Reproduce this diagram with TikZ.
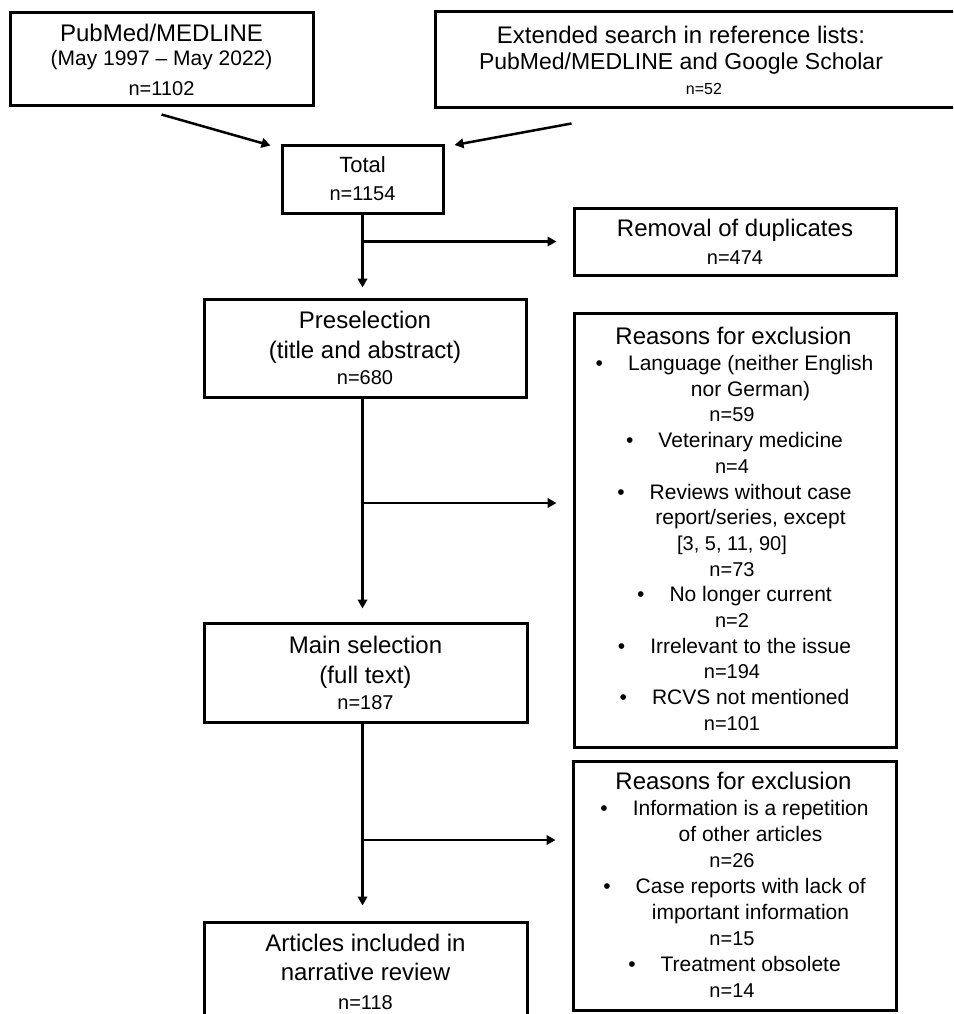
\documentclass[tikz,border=0pt]{standalone}
\usepackage{fontspec}
\setmainfont{Liberation Sans}
\usetikzlibrary{arrows.meta,calc}
\newcommand{\hd}{\fontsize{24}{29}\selectfont}
\newcommand{\totfont}{\fontsize{22}{27}\selectfont}
\newcommand{\itemfont}{\fontsize{21}{25}\selectfont}
\newcommand{\nfont}{\fontsize{20}{24}\selectfont}
\newcommand{\smallnfont}{\fontsize{16}{19}\selectfont}

\begin{document}
\begin{tikzpicture}[x=1pt, y=-1pt,
    box/.style={draw, line width=3pt, inner sep=0pt, align=center, font=\hd},
    arr/.style={draw, line width=2.5pt, -{Triangle[length=9pt, width=9.5pt]}},
    lnh/.style={font=\hd, xshift=-1pt},
    lnb/.style={font=\itemfont, execute at begin node={\textbullet\hspace{25pt}}},
    lnc/.style={font=\itemfont, xshift=16pt},
    lnn/.style={font=\nfont, xshift=-2.5pt}]
  \useasboundingbox (0,0) rectangle (953,1014);
  \clip (0,0) rectangle (953,1014);

  % sources
  \node[box, minimum width=560pt, minimum height=96pt] (extsearch) at (715,60)
    {Extended search in reference lists:\rule{68pt}{0pt}\\[-3pt]{\fontsize{23}{27}\selectfont PubMed/MEDLINE and Google Scholar\rule{68pt}{0pt}}\\[-4pt]{\smallnfont n=52\rule{22pt}{0pt}}};
  \node[box, minimum width=303pt, minimum height=93pt] (pubmed) at (161.5,59.5)
    {PubMed/MEDLINE\\[-5pt]{\itemfont (May 1997 -- May 2022)}\\[1pt]{\nfont n=1102}};

  % main column
  \node[box, minimum width=161pt, minimum height=68pt] (total) at (362.5,179)
    {{\totfont Total}\\[-1pt]{\nfont n=1154}};
  \node[box, minimum width=322pt, minimum height=98pt] (presel) at (365,348)
    {Preselection\\[1pt](title and abstract)\\[-3pt]{\nfont n=680}};
  \node[box, minimum width=323pt, minimum height=99pt] (mainsel) at (365.5,672.5)
    {Main selection\\[1pt](full text)\\[-3pt]{\nfont n=187}};
  \node[box, minimum width=323pt, minimum height=100pt] (included) at (365.5,972)
    {Articles included in\\narrative review\\{\nfont n=118}};

  % right column
  \node[box, minimum width=322pt, minimum height=67pt] (dupl) at (735,241.5)
    {Removal of duplicates\\[-1pt]{\nfont n=474}};
  \node[box, minimum width=322pt, minimum height=434pt] (excl1) at (735,530) {};
  \node[box, minimum width=323pt, minimum height=249pt] (excl2) at (734.5,885.5) {};

  \foreach \kind/\txt [count=\r] in {h/Reasons for exclusion,
      b/Language (neither English, c/nor German), n/n=59,
      b/Veterinary medicine, n/n=4,
      b/Reviews without case, c/{report/series, except}, n/{[3, 5, 11, 90]}, n/n=73,
      b/No longer current, n/n=2,
      b/Irrelevant to the issue, n/n=194,
      b/RCVS not mentioned, n/n=101}{
    \pgfmathsetmacro{\yy}{344.8+25.7*(\r-1)}
    \node[ln\kind, anchor=base] (exa-\r) at (734.5,\yy) {\txt};
  }
  \foreach \kind/\txt [count=\r] in {h/Reasons for exclusion,
      b/Information is a repetition, c/of other articles, n/n=26,
      b/Case reports with lack of, c/important information, n/n=15,
      b/Treatment obsolete, n/n=14}{
    \pgfmathsetmacro{\yy}{789.8+25.9*(\r-1)}
    \node[ln\kind, anchor=base] (exb-\r) at (734.5,\yy) {\txt};
  }

  % connectors
  \coordinate (cut1) at (362.5,503);
  \coordinate (cut2) at (362.5,840);
  \draw[arr] ([yshift=-7pt]pubmed.south) -- ([xshift=-10pt, yshift=-2pt]total.north west);
  \draw[arr] ([xshift=138pt, yshift=-14pt]extsearch.south west) -- ([xshift=10pt, yshift=-1.5pt]total.north east);
  \draw[arr, shorten >=10pt] (total.south) -- (total.south |- presel.north);
  \draw[arr, shorten >=16pt] (total.south |- dupl.west) -- (dupl.west);
  \draw[arr, shorten >=13pt] (total.south |- presel.south) -- (total.south |- mainsel.north);
  \draw[arr, shorten >=16pt] (cut1) -- (cut1 -| excl1.west);
  \draw[arr, shorten >=15pt] (total.south |- mainsel.south) -- (total.south |- included.north);
  \draw[arr, shorten >=16pt] (cut2) -- (cut2 -| excl2.west);
\end{tikzpicture}
\end{document}
